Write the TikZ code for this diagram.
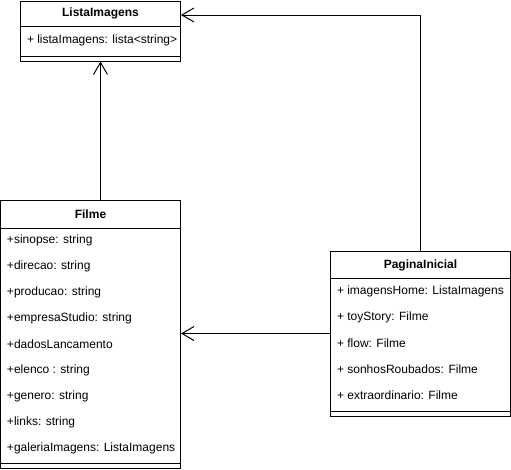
\documentclass[tikz,border=0pt]{standalone}
\usepackage{fontspec}
\setmainfont{Liberation Sans}
\usetikzlibrary{arrows.meta,fit}
\begin{document}
\begin{tikzpicture}[x=0.75pt,y=-0.75pt,
  line width=0.75pt,
  classbox/.style={draw,fill=white,inner sep=0pt},
  divider/.style={line width=0.75pt},
  title/.style={font=\fontsize{9pt}{11pt}\selectfont\bfseries,inner sep=0pt,anchor=center},
  attr/.style={font=\fontsize{9pt}{11pt}\selectfont,inner sep=0pt,anchor=west},
  assoc/.style={-{Straight Barb[length=9pt,width=10.5pt,line width=0.75pt]}}
]
\useasboundingbox (0,0) rectangle (511,469);

% ListaImagens
\node[classbox,fit={(20.5,1) (180.5,61)}] (lista) {};
\draw[divider] (20.5,26) -- (180.5,26);
\draw[divider] (20.5,56) -- (180.5,56);
\node[title] (listaT) at (100.5,13.5) {ListaImagens};
\node[attr] (listaA1) at (26.5,40) {+ listaImagens: lista<string>};

% Filme
\node[classbox,fit={(0.5,200) (180.5,468)}] (filme) {};
\draw[divider] (0.5,228) -- (180.5,228);
\draw[divider] (0.5,463) -- (180.5,463);
\node[title] (filmeT) at (90.5,214) {Filme};
\node[attr] (f1) at (6.5,240) {+sinopse: string};
\node[attr] (f2) at (6.5,266) {+direcao: string};
\node[attr] (f3) at (6.5,292) {+producao: string};
\node[attr] (f4) at (6.5,318) {+empresaStudio: string};
\node[attr] (f5) at (6.5,344) {+dadosLancamento};
\node[attr] (f6) at (6.5,370) {+elenco : string};
\node[attr] (f7) at (6.5,396) {+genero: string};
\node[attr] (f8) at (6.5,422) {+links: string};
\node[attr] (f9) at (6.5,448) {+galeriaImagens: ListaImagens};

% PaginaInicial
\node[classbox,fit={(330.5,251) (510.5,416)}] (pag) {};
\draw[divider] (330.5,278) -- (510.5,278);
\draw[divider] (330.5,411) -- (510.5,411);
\node[title] (pagT) at (420.5,265) {PaginaInicial};
\node[attr] (p1) at (336.5,291) {+ imagensHome: ListaImagens};
\node[attr] (p2) at (336.5,317) {+ toyStory: Filme};
\node[attr] (p3) at (336.5,343) {+ flow: Filme};
\node[attr] (p4) at (336.5,369) {+ sonhosRoubados: Filme};
\node[attr] (p5) at (336.5,395) {+ extraordinario: Filme};

% connectors
\coordinate (bend) at (420.5,15);
\draw[assoc] (filme.north -| lista.south) -- (lista.south);
\draw[assoc] (pag.north) -- (bend) -- (bend -| lista.east);
\draw[assoc] (pag.west) -- (pag.west -| filme.east);
\end{tikzpicture}
\end{document}
